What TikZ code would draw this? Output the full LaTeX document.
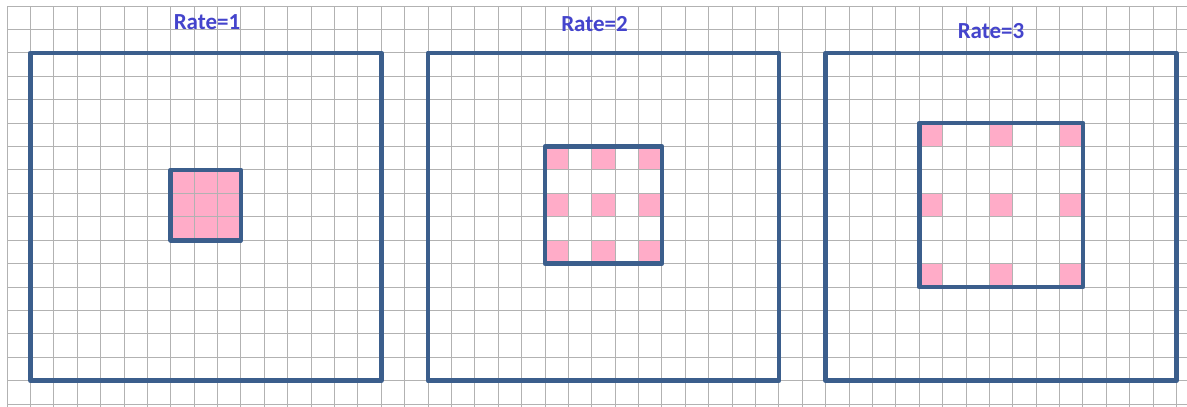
\documentclass[tikz,border=0pt]{standalone}
\usepackage{fontspec}
\setmainfont{Carlito}
\definecolor{gridgray}{RGB}{178,178,178}
\definecolor{boxblue}{RGB}{59,94,140}
\definecolor{cellpink}{RGB}{255,172,200}
\definecolor{titleblue}{RGB}{68,68,204}
\newcommand{\gx}[1]{7+23.39*(#1)}
\newcommand{\gy}[1]{6+23.42*(#1)}
\begin{document}
\begin{tikzpicture}[x=1pt,y=-1pt,
  gridline/.style={draw=gridgray,line width=0.9pt},
  framebox/.style={draw=boxblue,line width=4.6pt,line join=round},
  pinkcell/.style={fill=cellpink},
  ratetitle/.style={text=titleblue,font=\fontsize{23}{27}\selectfont\bfseries,inner sep=0pt}]
\useasboundingbox (0,0) rectangle (1187,407);
\fill[white] (0,0) rectangle (1187,407);
% pink cells
\fill[pinkcell] ({\gx{7}},{\gy{7}}) rectangle ({\gx{10}},{\gy{10}});
\foreach \c in {23,25,27}{\foreach \r in {6,8,10}{
  \fill[pinkcell] ({\gx{\c}},{\gy{\r}}) rectangle ({\gx{\c+1}},{\gy{\r+1}});}}
\foreach \c in {39,42,45}{\foreach \r in {5,8,11}{
  \fill[pinkcell] ({\gx{\c}},{\gy{\r}}) rectangle ({\gx{\c+1}},{\gy{\r+1}});}}
% grid
\foreach \i in {0,...,50}{\draw[gridline] ({\gx{\i}},6) -- ({\gx{\i}},407);}
\foreach \j in {0,...,17}{\draw[gridline] (7,{\gy{\j}}) -- (1187,{\gy{\j}});}
% outer frames
\draw[framebox] ({\gx{1}},{\gy{2}}) rectangle ({\gx{16}},{\gy{16}});
\draw[framebox] ({\gx{18}},{\gy{2}}) rectangle ({\gx{33}},{\gy{16}});
\draw[framebox] ({\gx{35}},{\gy{2}}) rectangle ({\gx{50}},{\gy{16}});
% inner frames
\draw[framebox] ({\gx{7}},{\gy{7}}) rectangle ({\gx{10}},{\gy{10}});
\draw[framebox] ({\gx{23}},{\gy{6}}) rectangle ({\gx{28}},{\gy{11}});
\draw[framebox] ({\gx{39}},{\gy{5}}) rectangle ({\gx{46}},{\gy{12}});
% titles
\node[ratetitle] (t1) at (207,22) {Rate=1};
\node[ratetitle] (t2) at (594.5,24.5) {Rate=2};
\node[ratetitle] (t3) at (991,31) {Rate=3};
\end{tikzpicture}
\end{document}
